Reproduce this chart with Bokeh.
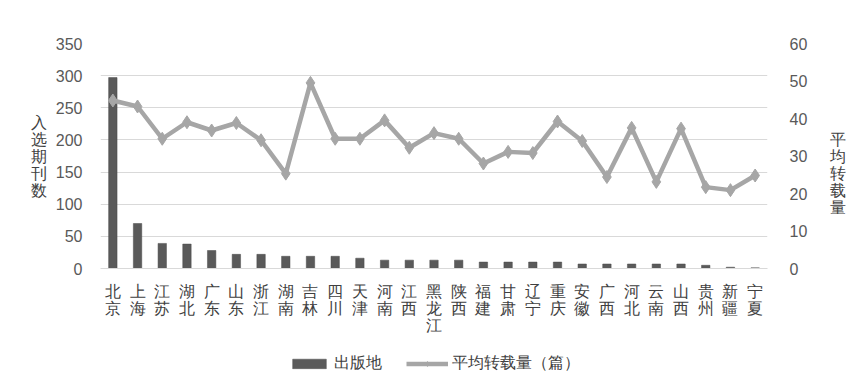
from bokeh.plotting import figure
from bokeh.layouts import column
from bokeh.models import (FactorRange, Range1d, LinearAxis, FixedTicker, Legend, LegendItem,
                          ColumnDataSource)
from bokeh.embed import file_html
from bokeh.resources import INLINE

provinces = ["北京", "上海", "江苏", "湖北", "广东", "山东", "浙江", "湖南", "吉林", "四川",
             "天津", "河南", "江西", "黑龙江", "陕西", "福建", "甘肃", "辽宁", "重庆", "安徽",
             "广西", "河北", "云南", "山西", "贵州", "新疆", "宁夏"]
journals = [297, 70, 39, 38, 28, 22, 22, 19, 19, 19, 16, 13, 13, 13, 13, 10, 10, 10, 10, 7,
            7, 7, 7, 7, 5, 2, 1]
avg_reprint = [44.8, 43.2, 34.6, 39.0, 36.8, 38.8, 34.2, 25.3, 49.5, 34.6, 34.6, 39.5, 32.2,
               36.1, 34.6, 28.0, 31.1, 30.8, 39.2, 34.0, 24.4, 37.5, 23.1, 37.3, 21.7, 20.9, 24.8]
left_ticks = [0, 50, 100, 150, 200, 250, 300, 350]
right_ticks = [0, 10, 20, 30, 40, 50, 60]

stacked = ["\n".join(list(n)) for n in provinces]
src = ColumnDataSource(dict(x=stacked, j=journals, a=avg_reprint))

FONT = "Liberation Serif"
NUMFONT = "Liberation Sans"
GRAY = "#595959"
DARK = "#404040"
BAR_FILL = "#5a5a5a"
BAR_LINE = "#4a4a4a"
LINE_COL = "#a6a6a6"

p = figure(x_range=FactorRange(factors=stacked), y_range=Range1d(0, 350),
           width=865, height=345,
           output_backend="svg", toolbar_location=None,
           min_border_top=43, min_border_left=100, min_border_right=98, min_border_bottom=77)
p.extra_y_ranges = {"r": Range1d(0, 60)}

p.vbar(x="x", top="j", width=0.34, source=src, fill_color=BAR_FILL, line_color=BAR_LINE,
       line_width=0.5)
p.line(x="x", y="a", y_range_name="r", source=src, line_color=LINE_COL, line_width=4.5)
p.scatter(x="x", y="a", y_range_name="r", source=src, marker="diamond", size=13,
          fill_color=LINE_COL, line_color=LINE_COL)

p.outline_line_color = None
p.xgrid.grid_line_color = None
p.ygrid.grid_line_color = "#d9d9d9"
p.ygrid.grid_line_width = 1.2
p.ygrid.ticker = FixedTicker(ticks=left_ticks)

ya = p.yaxis[0]
ya.ticker = FixedTicker(ticks=left_ticks)
ya.axis_line_color = None
ya.major_tick_line_color = None
ya.minor_tick_line_color = None
ya.major_label_text_font = NUMFONT
ya.major_label_text_font_size = "16px"
ya.major_label_text_color = GRAY
ya.major_label_standoff = 12
ya.axis_label = "入\n选\n期\n刊\n数"
ya.axis_label_orientation = "horizontal"
ya.axis_label_text_font = FONT
ya.axis_label_text_font_style = "normal"
ya.axis_label_text_font_size = "16px"
ya.axis_label_text_color = DARK
ya.axis_label_text_line_height = 1.0
ya.axis_label_standoff = 6

ra = LinearAxis(y_range_name="r", ticker=FixedTicker(ticks=right_ticks))
ra.axis_line_color = None
ra.major_tick_line_color = None
ra.minor_tick_line_color = None
ra.major_label_text_font = NUMFONT
ra.major_label_text_font_size = "16px"
ra.major_label_text_color = GRAY
ra.major_label_standoff = 16
ra.axis_label = "\u3000\n\u3000\n平\n均\n转\n载\n量"
ra.axis_label_orientation = "horizontal"
ra.axis_label_text_font = FONT
ra.axis_label_text_font_style = "normal"
ra.axis_label_text_font_size = "16px"
ra.axis_label_text_color = DARK
ra.axis_label_text_line_height = 1.0
ra.axis_label_standoff = 20
p.add_layout(ra, "right")

xa = p.xaxis[0]
xa.axis_line_color = "#d9d9d9"
xa.axis_line_width = 1.2
xa.major_tick_line_color = None
xa.minor_tick_line_color = None
xa.major_label_text_font = FONT
xa.major_label_text_font_size = "16px"
xa.major_label_text_color = DARK
xa.major_label_text_line_height = 1.0
xa.major_label_standoff = 8

# legend strip: a small figure whose frame holds the legend; its stand-in renderers
# hold one off-range point so that the legend can draw their swatches
lf = figure(width=865, height=36, x_range=Range1d(0, 1), y_range=Range1d(0, 1),
            output_backend="svg", toolbar_location=None, x_axis_type=None, y_axis_type=None,
            min_border=0)
lf.outline_line_color = None
lf.xgrid.visible = False
lf.ygrid.visible = False
offstage = ColumnDataSource(dict(x=[-10.0], y=[-10.0]))
lb = lf.vbar(x="x", top="y", width=0.5, source=offstage, fill_color=BAR_FILL,
             line_color=BAR_LINE, line_width=0.5)
ll = lf.line(x="x", y="y", source=offstage, line_color=LINE_COL, line_width=4.5)
lm = lf.scatter(x="x", y="y", source=offstage, marker="diamond", size=13,
                fill_color=LINE_COL, line_color=LINE_COL)
legend = Legend(items=[LegendItem(label="出版地", renderers=[lb]),
                       LegendItem(label="平均转载量（篇）", renderers=[ll, lm])],
                orientation="horizontal", location="center")
legend.border_line_color = None
legend.background_fill_alpha = 0
legend.label_text_font = FONT
legend.label_text_font_size = "16px"
legend.label_text_color = DARK
legend.label_standoff = 4
legend.glyph_width = 42
legend.glyph_height = 12
legend.spacing = 24
legend.margin = 0
legend.padding = 2
lf.add_layout(legend)

layout = column(p, lf, spacing=0)
open("out.html", "w").write(file_html(layout, INLINE))
